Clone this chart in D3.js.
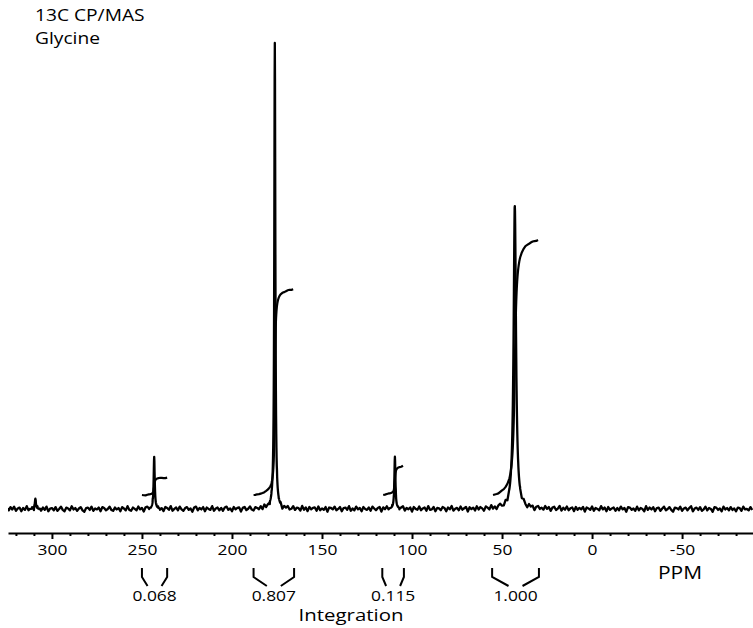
<!DOCTYPE html>
<html>
<head>
<meta charset="utf-8">
<script src="https://cdn.jsdelivr.net/npm/d3@7"></script>
<style>
  body { margin: 0; background: #fff; }
  text { font-family: "Open Sans", sans-serif; fill: #000; }
</style>
</head>
<body>
<svg width="753" height="628"></svg>
<script>
// peaks of the spectrum (ppm, relative height, half width at half max)
var peakPpm = [309.2, 243.2, 176.2, 109.5, 42.9];
var peakHeight = [2.2, 11.2, 100, 11.2, 65];
var peakHwhm = [0.35, 0.35, 0.35, 0.35, 0.8];

// baseline noise, one value per ppm from 325 down to -89
var noiseStart = 325;
var noise = [
  0.2,-0.3,0.4,-0.1,0.5,-0.4,0.1,0.3,-0.5,0.2,-0.2,0.6,-0.3,0.0,0.3,-0.6,0.2,0.4,-0.1,-0.4,
  0.3,-0.2,0.5,-0.5,0.1,0.2,-0.3,0.4,-0.4,0.0,0.5,-0.2,-0.5,0.3,0.1,-0.3,0.6,-0.1,0.2,-0.4,
  0.1,0.4,-0.3,-0.6,0.2,0.3,-0.2,0.5,-0.4,0.1,-0.1,0.3,-0.5,0.4,0.2,-0.3,0.0,0.5,-0.2,-0.4,
  0.3,-0.1,0.2,-0.5,0.4,0.1,-0.3,0.6,-0.2,-0.4,0.3,0.0,-0.3,0.5,-0.1,0.2,-0.6,0.3,0.4,-0.2,
  -0.1,0.5,-0.4,0.2,0.3,-0.3,0.1,-0.5,0.4,0.2,-0.2,0.6,-0.4,0.0,0.3,-0.3,0.5,-0.1,-0.4,0.2,
  0.4,-0.2,0.1,-0.6,0.3,0.5,-0.3,0.2,-0.1,0.4,-0.5,0.3,0.0,-0.2,0.6,-0.4,0.1,0.3,-0.3,0.2,
  -0.4,0.3,0.5,-0.2,0.1,-0.5,0.4,-0.1,0.2,0.3,-0.6,0.2,0.4,-0.3,0.0,0.5,-0.2,-0.4,0.3,0.1,
  -0.2,0.4,-0.3,0.6,-0.1,0.2,-0.5,0.3,0.1,-0.4,0.5,-0.2,0.3,-0.6,0.2,0.0,0.4,-0.3,-0.1,0.5,
  -0.3,0.2,0.1,-0.4,0.6,-0.2,0.3,-0.5,0.4,-0.1,0.2,0.3,-0.4,0.5,-0.3,0.1,-0.2,0.4,-0.6,0.3,
  0.2,-0.1,0.5,-0.3,0.0,0.4,-0.5,0.2,0.3,-0.2,0.6,-0.4,0.1,-0.3,0.5,-0.1,0.2,-0.5,0.4,0.0,
  -0.2,0.3,-0.4,0.5,0.1,-0.3,0.2,0.4,-0.6,0.3,-0.1,0.5,-0.2,0.0,0.3,-0.5,0.4,0.1,-0.3,0.2,
  0.5,-0.4,0.2,-0.1,0.3,-0.6,0.4,0.0,-0.2,0.5,-0.3,0.1,0.3,-0.4,0.6,-0.2,-0.1,0.4,-0.5,0.2,
  0.1,-0.3,0.4,0.2,-0.5,0.3,-0.1,0.6,-0.4,0.0,0.2,-0.3,0.5,-0.2,0.1,0.4,-0.6,0.3,-0.1,0.2,
  -0.4,0.5,-0.2,0.3,0.0,-0.5,0.4,0.1,-0.3,0.6,-0.2,0.2,-0.4,0.3,0.5,-0.1,-0.3,0.4,-0.5,0.1,
  0.3,-0.2,0.6,-0.4,0.1,0.2,-0.3,0.5,-0.1,-0.5,0.4,0.0,0.3,-0.6,0.2,0.4,-0.2,0.1,-0.3,0.5,
  -0.1,0.3,-0.5,0.2,0.4,-0.3,0.0,0.6,-0.4,0.2,-0.2,0.5,-0.3,0.1,0.3,-0.5,0.4,-0.2,0.2,-0.1,
  0.4,-0.6,0.3,0.1,-0.2,0.5,-0.4,0.2,0.0,-0.3,0.6,-0.1,0.3,-0.5,0.4,-0.2,0.1,0.3,-0.4,0.2,
  -0.3,0.5,-0.1,0.2,-0.6,0.4,0.3,-0.2,0.1,-0.4,0.5,-0.3,0.2,0.0,-0.5,0.6,-0.2,0.3,-0.1,0.4,
  -0.5,0.2,0.3,-0.4,0.1,0.5,-0.3,0.0,0.4,-0.2,-0.6,0.3,0.2,-0.1,0.5,-0.4,0.1,0.3,-0.3,0.2,
  0.6,-0.5,0.1,0.3,-0.2,0.4,-0.4,-0.1,0.5,-0.3,0.2,0.0,-0.6,0.4,0.3,-0.2,0.1,-0.5,0.5,-0.1,
  0.2,-0.3,0.4,-0.2,0.1,-0.5,0.3,0.2,-0.4,0.5,-0.1,0.0,-0.3,0.4,-0.2
];

// integration regions (ppm) and results
var intFrom = [250, 188, 116.5, 55.5];
var intTo = [236, 165.5, 104.5, 29.5];
var intValue = [0.068, 0.807, 0.115, 1.000];
var intLabel = ["0.068", "0.807", "0.115", "1.000"];

var majorTicks = [300, 250, 200, 150, 100, 50, 0, -50];
var titleLines = ["13C CP/MAS", "Glycine"];

var svg = d3.select("svg"),
    width = +svg.attr("width"),
    height = +svg.attr("height");

var sx = 1.2; // the reference text is a little wide

var x = d3.scaleLinear().domain([324.4, -89.4]).range([8, 753]);
var y = d3.scaleLinear().domain([0, 100]).range([509, 43]);
var yInt = d3.scaleLinear().domain([0, 1]).range([495, 240]);

function lor(p) {
  var s = 0;
  for (var i = 0; i < peakPpm.length; i++) {
    var d = p - peakPpm[i], g = peakHwhm[i];
    s += peakHeight[i] * g * g / (d * d + g * g);
  }
  return s;
}

// build the spectrum points
var pts = noise.map(function(n, i) {
  var p = noiseStart - i;
  return {ppm: p, v: lor(p) + n};
});
peakPpm.forEach(function(c) {
  for (var k = -30; k <= 30; k++) {
    var p = Math.round((c + k * 0.1) * 100) / 100;
    if (Math.abs(p - Math.round(p)) > 1e-6) pts.push({ppm: p, v: lor(p)});
  }
});
pts.sort(function(a, b) { return b.ppm - a.ppm; });

svg.append("defs").append("clipPath").attr("id", "clip")
  .append("rect").attr("x", 8).attr("y", 0).attr("width", 745).attr("height", 530);

var line = d3.line()
  .x(function(d) { return x(d.ppm); })
  .y(function(d) { return y(d.v); });

svg.append("path")
  .datum(pts)
  .attr("clip-path", "url(#clip)")
  .attr("fill", "none")
  .attr("stroke", "#000")
  .attr("stroke-width", 2.3)
  .attr("stroke-linejoin", "round")
  .attr("d", line);

// integral curves
var intLine = d3.line()
  .x(function(d) { return x(d.ppm); })
  .y(function(d) { return yInt(d.c); });

intFrom.forEach(function(from, j) {
  var seg = pts.filter(function(d) { return d.ppm <= from && d.ppm >= intTo[j]; });
  var cum = 0, out = [{ppm: seg[0].ppm, c: 0}];
  for (var i = 1; i < seg.length; i++) {
    cum += (seg[i].v + seg[i - 1].v) / 2 * (seg[i - 1].ppm - seg[i].ppm);
    out.push({ppm: seg[i].ppm, c: cum});
  }
  out.forEach(function(d) { d.c = d.c / cum * intValue[j]; });
  svg.append("path")
    .datum(out)
    .attr("fill", "none")
    .attr("stroke", "#000")
    .attr("stroke-width", 2.2)
    .attr("stroke-linejoin", "round")
    .attr("d", intLine);
});

// axis
var axisY = 533;
var minor = d3.range(-80, 330, 10).filter(function(v) { return v % 50 !== 0; });

var gMinor = svg.append("g")
  .attr("transform", "translate(0," + axisY + ")")
  .call(d3.axisBottom(x).tickValues(minor).tickSize(3).tickSizeOuter(0).tickFormat(""));
gMinor.select(".domain").attr("stroke-width", 2);
gMinor.selectAll(".tick line").attr("stroke-width", 2);

var gMajor = svg.append("g")
  .attr("transform", "translate(0," + axisY + ")")
  .call(d3.axisBottom(x).tickValues(majorTicks).tickSize(6).tickSizeOuter(0)
    .tickPadding(6).tickFormat(function(d) { return String(d); }));
gMajor.select(".domain").remove();
gMajor.selectAll(".tick line").attr("stroke-width", 2);
gMajor.selectAll(".tick text")
  .attr("font-family", "Open Sans, sans-serif")
  .attr("font-size", 14.5)
  .attr("fill", "#000")
  .attr("transform", "scale(" + sx + ",1)");

function label(tx, ty, str, size, anchor) {
  svg.append("text")
    .attr("transform", "translate(" + tx + "," + ty + ") scale(" + sx + ",1)")
    .attr("text-anchor", anchor)
    .attr("font-size", size)
    .text(str);
}

label(680, 579, "PPM", 17.5, "middle");
label(35, 21, titleLines[0], 16, "start");
label(35, 44, titleLines[1], 16, "start");
label(351, 621, "Integration", 17, "middle");

// integration brackets and values
var bTop = 568, bBend = 577, bBot = 586;
intFrom.forEach(function(from, j) {
  var x0 = x(from), x1 = x(intTo[j]), cx = (x0 + x1) / 2;
  svg.append("path")
    .attr("fill", "none")
    .attr("stroke", "#000")
    .attr("stroke-width", 2)
    .attr("d", "M" + x0 + "," + bTop + "V" + bBend + "L" + (cx - 7) + "," + bBot +
               "M" + x1 + "," + bTop + "V" + bBend + "L" + (cx + 7) + "," + bBot);
  label(cx, 601, intLabel[j], 14.5, "middle");
});
</script>
</body>
</html>
